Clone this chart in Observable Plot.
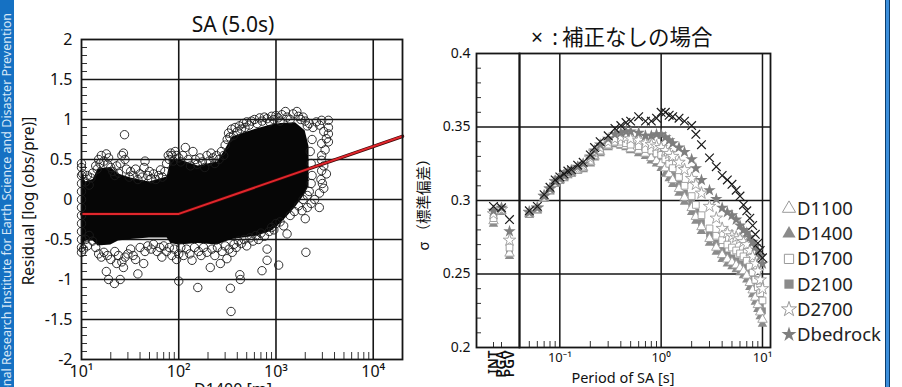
<!DOCTYPE html>
<html><head><meta charset="utf-8">
<script src="https://cdn.jsdelivr.net/npm/d3@7"></script>
<script src="https://cdn.jsdelivr.net/npm/@observablehq/plot@0.6"></script>
<style>
html,body{margin:0;padding:0;background:#fff;overflow:hidden;}
#wrap{position:relative;width:902px;height:387px;overflow:hidden;font-family:"Noto Sans",sans-serif;}
#wrap > svg{position:absolute;top:0;background:transparent;}
</style></head><body><div id="wrap"></div>
<script>
// ---------------- LEFT PANEL DATA: SA (5.0s) residuals vs D1400 ----------------
const leftYTicks = [-2, -1.5, -1, -0.5, 0, 0.5, 1, 1.5, 2];
const leftYGrid = [-1.5, -1, -0.5, 0, 0.5, 1, 1.5];
const leftYMinor = [-1.9,-1.8,-1.7,-1.6,-1.4,-1.3,-1.2,-1.1,-0.9,-0.8,-0.7,-0.6,-0.4,-0.3,-0.2,-0.1,0.1,0.2,0.3,0.4,0.6,0.7,0.8,0.9,1.1,1.2,1.3,1.4,1.6,1.7,1.8,1.9];
const leftXTicks = [10, 100, 1000, 10000];
const leftXTickLabels = ["10¹", "10²", "10³", "10⁴"];
const leftXGrid = [100, 1000, 10000];
const leftXMinor = [20,30,40,50,60,70,80,90,200,300,400,500,600,700,800,900,2000,3000,4000,5000,6000,7000,8000,9000];
// fitted bilinear correction line
const fitD = [10, 100, 20000];
const fitR = [-0.18, -0.18, 0.79];
// dense core of the residual cloud (read envelope)
const coreD  = [10, 11, 13.2, 14.8, 20, 24, 32, 50, 76, 83, 100, 158, 251, 300, 355, 631, 891, 1122, 1585, 1995, 2188];
const coreLo = [-0.62,-0.52,-0.52,-0.58,-0.57,-0.52,-0.5,-0.48,-0.48,-0.55,-0.57,-0.55,-0.57,-0.53,-0.5,-0.46,-0.4,-0.3,-0.1,0.07,0.17];
const coreHi = [0.38,0.22,0.25,0.38,0.4,0.32,0.27,0.22,0.28,0.5,0.5,0.42,0.47,0.62,0.78,0.88,0.93,0.95,0.96,0.86,0.66];
// individual residual circles visible at the edges of the cloud [D1400, residual]
const residualPoints = [
 [10,0.45],[10,0.4],[10,0.3],[10,0.2],[10,0.1],[10,0],[10,-0.1],[10,-0.2],[10,-0.3],[10,-0.4],[10,-0.5],[10,-0.6],[10,-0.66],
 [10.3,0.32],[11,0.22],[11.5,0.3],[12,0.18],[12.5,0.27],[13,0.33],[14,0.42],[14.5,0.38],[15,0.5],[15.5,0.45],[16,0.55],[17,0.48],[18,0.57],[18.5,0.44],[19,0.52],[20,0.4],[21,0.35],[22,0.3],[23,0.42],[24,0.33],[25,0.45],[26,0.55],[27,0.58],[27.7,0.81],[28,0.5],[29,0.38],[31,0.28],[32,0.35],[34,0.3],[36,0.38],[38,0.25],[40,0.32],[42,0.28],[44,0.4],[45,0.48],[48,0.3],[50,0.35],[52,0.26],[55,0.32],[58,0.25],[62,0.3],[65,0.37],[68,0.28],[72,0.35],[75,0.45],[78,0.55],[80,0.5],[83,0.58],[85,0.55],[88,0.48],[92,0.6],[95,0.55],[100,0.52],[105,0.47],[110,0.55],[117,0.65],[125,0.5],[132,0.42],[140,0.6],[148,0.5],[155,0.44],[165,0.52],[175,0.47],[185,0.4],[195,0.55],[205,0.48],[215,0.58],[225,0.52],[235,0.45],[245,0.55],[260,0.5],[275,0.6],[290,0.55],[300,0.68],[315,0.75],[325,0.83],[335,0.78],[350,0.88],[365,0.8],[380,0.9],[400,0.85],[420,0.92],[440,0.88],[460,0.95],[480,0.9],[500,0.97],[530,0.93],[560,0.98],[600,1.0],[640,0.95],[680,1.02],[720,0.98],[760,1.03],[810,1.01],[860,0.97],[900,1.04],[950,1.0],[1000,1.05],[1050,1.02],[1100,0.98],[1150,1.06],[1250,1.1],[1300,1.03],[1400,1.0],[1500,1.07],[1640,1.1],[1700,1.04],[1800,1.0],[1900,1.03],[2000,0.98],[2100,0.92],[2200,0.95],[2400,0.9],[2600,0.97],[2800,0.93],[2950,0.99],[3100,0.85],[3460,0.99],[3460,0.9],[3460,0.82],[3300,0.76],[3460,0.72],[2950,0.7],[3200,0.62],[2950,0.55],[2950,0.49],[3100,0.42],[2950,0.36],[3300,0.32],[2900,0.25],[3000,0.2],[3100,0.14],[2800,0.08],[2790,-0.1],[2500,0.0],[2300,-0.05],[2000,-0.24],[1850,-0.14],[2100,-0.1],
 [10.5,-0.62],[11,-0.5],[11.5,-0.58],[12,-0.45],[13,-0.52],[14,-0.6],[15,-0.68],[16,-0.72],[17,-0.66],[18,-0.9],[18.5,-0.7],[19,-1.0],[20,-0.75],[21.8,-1.05],[22,-0.65],[23,-0.8],[24,-0.7],[25,-1.0],[26,-0.78],[27,-0.85],[28,-0.72],[30,-0.68],[32,-0.62],[34,-0.7],[36,-0.75],[38,-0.93],[40,-0.6],[43.6,-0.8],[45,-0.65],[48,-0.58],[52,-0.62],[55,-0.56],[60,-0.65],[64,-0.6],[67,-0.72],[70,-0.58],[75,-0.65],[80,-0.6],[85,-0.7],[90,-0.62],[95,-0.75],[100,-1.02],[100,-0.68],[105,-0.6],[112,-0.7],[120,-0.62],[130,-0.68],[137,-0.76],[145,-0.6],[157,-1.1],[160,-0.65],[170,-0.7],[180,-0.6],[195,-0.66],[211,-0.85],[220,-0.62],[235,-0.7],[250,-0.6],[268,-0.8],[280,-0.65],[300,-0.58],[313,-0.74],[330,-0.62],[340,-1.11],[345,-1.4],[355,-0.66],[370,-0.56],[390,-0.6],[410,-0.52],[425,-0.94],[430,-1.0],[440,-0.55],[470,-0.5],[500,-0.58],[540,-0.48],[580,-0.52],[620,-0.45],[660,-0.5],[718,-0.89],[700,-0.42],[760,-0.46],[810,-0.76],[810,-0.62],[850,-0.4],[900,-0.35],[950,-0.38],[1000,-0.3],[1065,-0.82],[1100,-0.28],[1200,-0.33],[1300,-0.43],[1400,-0.2],[1550,-0.15],[1700,-0.08],[2030,-0.66],[1900,0.0],[2100,0.05],[2200,0.1],[2300,0.2],[2350,0.3],[2300,0.45],[2250,0.6],[2350,0.75]
];

// ---------------- RIGHT PANEL DATA: sigma vs period ----------------
const rightYTicks = [0.2, 0.25, 0.3, 0.35, 0.4];
const rightYGrid = [0.25, 0.3, 0.35];
const rightYMinor = [0.21,0.22,0.23,0.24,0.26,0.27,0.28,0.29,0.31,0.32,0.33,0.34,0.36,0.37,0.38,0.39];
const rightXTicks = [0.1, 1, 10];
const rightXTickLabels = ["10⁻¹", "10⁰", "10¹"];
const rightXMinor = [0.05,0.06,0.07,0.08,0.09,0.2,0.3,0.4,0.5,0.6,0.7,0.8,0.9,2,3,4,5,6,7,8,9];
const categories = ["INT", "PGA", "PGV"];
const periods = [0.05,0.06,0.07,0.08,0.09,0.1,0.11,0.12,0.13,0.15,0.17,0.2,0.22,0.25,0.3,0.35,0.4,0.45,0.5,0.6,0.7,0.8,0.9,1,1.1,1.2,1.3,1.5,1.7,2,2.2,2.5,3,3.5,4,4.5,5,5.5,6,6.5,7,7.5,8,8.5,9,9.5,10];
const sigmaNoCorr   = [.293,.296,.304,.309,.314,.316,.318,.320,.321,.324,.326,.331,.336,.340,.344,.349,.351,.353,.354,.357,.354,.354,.356,.360,.360,.358,.357,.356,.354,.351,.345,.338,.329,.323,.317,.314,.311,.307,.303,.297,.293,.288,.283,.277,.271,.266,.261];
const sigmaDbedrock = [.292,.295,.303,.308,.313,.315,.317,.319,.320,.323,.325,.330,.334,.338,.342,.345,.346,.347,.347,.346,.344,.344,.345,.345,.343,.341,.339,.336,.333,.328,.322,.314,.307,.301,.295,.292,.290,.287,.283,.280,.278,.275,.272,.269,.266,.262,.257];
const sigmaD2700    = [.292,.295,.303,.308,.313,.315,.317,.319,.320,.322,.324,.329,.333,.336,.340,.342,.343,.343,.342,.341,.339,.338,.337,.336,.334,.332,.330,.326,.321,.315,.311,.305,.296,.288,.281,.278,.276,.275,.274,.272,.270,.266,.262,.257,.252,.246,.240];
const sigmaD1700    = [.291,.294,.302,.307,.312,.314,.316,.318,.319,.321,.323,.327,.331,.334,.338,.340,.340,.339,.338,.337,.335,.334,.332,.331,.328,.325,.322,.316,.310,.303,.297,.290,.281,.276,.273,.270,.268,.266,.264,.262,.259,.255,.251,.246,.241,.237,.232];
const sigmaD2100    = [.291,.294,.302,.307,.312,.314,.316,.318,.319,.321,.322,.326,.330,.333,.337,.339,.339,.338,.336,.335,.333,.331,.329,.327,.324,.320,.317,.311,.305,.298,.292,.285,.277,.271,.266,.263,.261,.259,.257,.255,.252,.248,.244,.239,.234,.229,.225];
const sigmaD1100    = [.291,.294,.302,.307,.312,.314,.316,.318,.319,.321,.322,.326,.330,.333,.337,.339,.338,.337,.335,.334,.332,.329,.327,.325,.322,.318,.314,.308,.302,.295,.289,.282,.274,.268,.263,.260,.258,.256,.254,.252,.249,.244,.239,.234,.229,.224,.219];
const sigmaD1400    = [.290,.293,.301,.306,.311,.313,.315,.317,.318,.320,.321,.325,.329,.332,.336,.338,.337,.336,.334,.332,.330,.327,.325,.322,.318,.315,.311,.305,.299,.292,.286,.279,.271,.265,.260,.257,.255,.253,.251,.249,.246,.241,.236,.231,.226,.221,.216];
// INT, PGA, PGV
const catNoCorr   = [0.296, 0.295, 0.287];
const catDbedrock = [0.293, 0.295, 0.279];
const catD2700    = [0.291, 0.294, 0.273];
const catD1700    = [0.288, 0.294, 0.268];
const catD2100    = [0.286, 0.293, 0.266];
const catD1100    = [0.286, 0.293, 0.264];
const catD1400    = [0.284, 0.292, 0.262];

// ---------------- styles ----------------
const GRID = "#161616";
const GRAY = "#8b8b8b";
const series = [
  {name: "D1400",    vals: sigmaD1400,    cat: catD1400,    symbol: "triangle", fill: GRAY,   stroke: "none", r: 3.5},
  {name: "D2100",    vals: sigmaD2100,    cat: catD2100,    symbol: "square",   fill: GRAY,   stroke: "none", r: 3.8},
  {name: "D1100",    vals: sigmaD1100,    cat: catD1100,    symbol: "triangle", fill: "white", stroke: "#9a9a9a", r: 3.5},
  {name: "D1700",    vals: sigmaD1700,    cat: catD1700,    symbol: "square",   fill: "white", stroke: "#9a9a9a", r: 3.8},
  {name: "D2700",    vals: sigmaD2700,    cat: catD2700,    symbol: "star",     fill: "white", stroke: "#9a9a9a", r: 3.9},
  {name: "Dbedrock", vals: sigmaDbedrock, cat: catDbedrock, symbol: "star",     fill: "#7e7e7e", stroke: "none", r: 3.9},
];
const fontFam = '"Noto Sans", "DejaVu Sans", sans-serif';
const wrap = document.getElementById("wrap");
function place(svg, left) { svg.style.left = left + "px"; wrap.appendChild(svg); }

// ---------------- LEFT PLOT ----------------
const coreRows = coreD.map((d, i) => ({D: d, lo: coreLo[i], hi: coreHi[i]}));
const fitRows = fitD.map((d, i) => ({D: d, r: fitR[i]}));
const leftW = 420, leftH = 387, lML = 81, lMR = 18, lMT = 39, lMB = 28;
const leftPlot = Plot.plot({
  width: leftW, height: leftH, marginLeft: lML, marginRight: lMR, marginTop: lMT, marginBottom: lMB,
  style: {fontFamily: fontFam, fontSize: "16px", color: "#111", background: "transparent", overflow: "visible"},
  x: {type: "log", domain: [10, 20000], axis: null},
  y: {domain: [-2, 2], axis: null},
  marks: [
    Plot.ruleY(leftYGrid, {stroke: GRID, strokeWidth: 1.6}),
    Plot.ruleX(leftXGrid, {stroke: GRID, strokeWidth: 1.6}),
    Plot.tickY(leftYMinor, {y: d => d, stroke: "#333", strokeWidth: 1, insetRight: (leftW - lML - lMR) - 6}),
    Plot.tickX(leftXMinor, {x: d => d, stroke: "#333", strokeWidth: 1, insetTop: (leftH - lMT - lMB) - 7}),
    Plot.areaY(coreRows, {x: "D", y1: "lo", y2: "hi", fill: "#060606"}),
    Plot.dot(residualPoints, {x: d => d[0], y: d => d[1], r: 4.2, stroke: "#1c1c1c", strokeWidth: 0.9, fill: "none"}),
    Plot.line(fitRows, {x: "D", y: "r", stroke: "#3a0505", strokeWidth: 3.4}),
    Plot.line(fitRows, {x: "D", y: "r", stroke: "#e0262c", strokeWidth: 2}),
    Plot.frame({stroke: GRID, strokeWidth: 1.8}),
    Plot.axisY({ticks: leftYTicks, tickFormat: d => String(d), tickSize: 0, tickPadding: 9, fontSize: 16, label: null}),
    Plot.axisX({ticks: leftXTicks, tickFormat: d => leftXTickLabels[leftXTicks.indexOf(d)], tickSize: 0, tickPadding: 6, fontSize: 16, label: null})
  ]
});
place(leftPlot, 0);

// ---------------- RIGHT PLOT: categorical part (INT / PGA / PGV) ----------------
const catLeft = 430, cML = 46, cMR = 2, catW = 91, rMT = 53, rMB = 40, rH = 387;
const catPlot = Plot.plot({
  width: catW, height: rH, marginLeft: cML, marginRight: cMR, marginTop: rMT, marginBottom: rMB,
  style: {fontFamily: fontFam, fontSize: "14px", color: "#111", background: "transparent", overflow: "visible"},
  x: {type: "point", domain: categories, insetLeft: 12, insetRight: 5, axis: null},
  y: {domain: [0.2, 0.4], axis: null},
  marks: [
    Plot.ruleY(rightYGrid, {stroke: GRID, strokeWidth: 1.5}),
    Plot.tickY(rightYMinor, {y: d => d, stroke: "#333", strokeWidth: 1, insetRight: (catW - cML - cMR) - 5}),
    Plot.tickX(["INT", "PGA"], {x: d => d, stroke: "#333", strokeWidth: 1, insetTop: (rH - rMT - rMB) - 5}),
    ...series.map(s => Plot.dot(categories.map((c, i) => ({c, v: s.cat[i]})), {x: "c", y: "v", symbol: s.symbol, fill: s.fill, stroke: s.stroke, strokeWidth: 0.9, r: s.r})),
    Plot.dot(categories.map((c, i) => ({c, v: catNoCorr[i]})), {x: "c", y: "v", symbol: "times", stroke: "#1a1a1a", strokeWidth: 1.2, r: 4}),
    Plot.frame({stroke: GRID, strokeWidth: 1.8}),
    Plot.axisY({ticks: rightYTicks, tickFormat: d => String(d), tickSize: 0, tickPadding: 6, fontSize: 14, label: null}),
    Plot.axisX({tickRotate: -90, tickSize: 0, tickPadding: 3, fontSize: 13.5, fontWeight: 600, label: null})
  ]
});
place(catPlot, catLeft);

// ---------------- RIGHT PLOT: log period part ----------------
const logLeft = 517, gML = 2, gMR = 10, logW = 263;
const logPlot = Plot.plot({
  width: logW, height: rH, marginLeft: gML, marginRight: gMR, marginTop: rMT, marginBottom: rMB,
  style: {fontFamily: fontFam, fontSize: "13.5px", color: "#111", background: "transparent", overflow: "visible"},
  x: {type: "log", domain: [0.04, 12], axis: null},
  y: {domain: [0.2, 0.4], axis: null},
  marks: [
    Plot.ruleY(rightYGrid, {stroke: GRID, strokeWidth: 1.5}),
    Plot.ruleX(rightXTicks, {stroke: GRID, strokeWidth: 1.5}),
    Plot.tickX(rightXMinor, {x: d => d, stroke: "#333", strokeWidth: 1, insetTop: (rH - rMT - rMB) - 6}),
    ...series.map(s => Plot.dot(periods.map((p, i) => ({T: p, v: s.vals[i]})), {x: "T", y: "v", symbol: s.symbol, fill: s.fill, stroke: s.stroke, strokeWidth: 0.9, r: s.r})),
    Plot.dot(periods.map((p, i) => ({T: p, v: sigmaNoCorr[i]})), {x: "T", y: "v", symbol: "times", stroke: "#1a1a1a", strokeWidth: 1.2, r: 4}),
    Plot.frame({stroke: GRID, strokeWidth: 1.8}),
    Plot.axisX({ticks: rightXTicks, tickFormat: d => rightXTickLabels[rightXTicks.indexOf(d)], tickSize: 0, tickPadding: 5, fontSize: 13, label: null})
  ]
});
place(logPlot, logLeft);

// ---------------- overlay: titles, legend, page chrome ----------------
const ov = d3.create("svg").attr("width", 902).attr("height", 387)
  .style("left", "0px").style("pointer-events", "none").style("font-family", fontFam);
// left blue strip with site name
ov.append("rect").attr("x", 0).attr("y", 0).attr("width", 14).attr("height", 387).attr("fill", "#1571c3");
ov.append("text").attr("transform", "translate(11.3,418) rotate(-90)").attr("font-size", 12.5).attr("fill", "#d6e7f7")
  .text("National Research Institute for Earth Science and Disaster Prevention");
// right blue border
ov.append("rect").attr("x", 885).attr("y", 0).attr("width", 5).attr("height", 387).attr("fill", "#0d3d6b");
ov.append("rect").attr("x", 886).attr("y", 0).attr("width", 3).attr("height", 387).attr("fill", "#3c8fdc");
// left titles
ov.append("text").attr("x", 233).attr("y", 32).attr("text-anchor", "middle").attr("font-size", 21).attr("fill", "#111").text("SA (5.0s)");
ov.append("text").attr("x", 233).attr("y", 395).attr("text-anchor", "middle").attr("font-size", 16).attr("fill", "#111").text("D1400 [m]");
ov.append("text").attr("transform", "translate(34,201) rotate(-90)").attr("text-anchor", "middle").attr("font-size", 15.5).attr("fill", "#111").text("Residual [log (obs/pre)]");
// right titles
ov.append("text").attr("transform", "translate(429,201) rotate(-90)").attr("text-anchor", "middle").attr("font-size", 14.5).attr("fill", "#111")
  .style("font-family", '"Noto Sans CJK JP", sans-serif').text("σ （標準偏差）");
ov.append("text").attr("x", 537).attr("y", 45).attr("text-anchor", "middle").attr("font-size", 21).attr("fill", "#111").text("×");
ov.append("text").attr("x", 555).attr("y", 45).attr("text-anchor", "middle").attr("font-size", 21).attr("fill", "#111").text(":");
ov.append("text").attr("x", 562).attr("y", 45).attr("font-size", 21.5).attr("fill", "#111")
  .style("font-family", '"Noto Sans CJK JP", sans-serif').text("補正なしの場合");
ov.append("text").attr("x", 623).attr("y", 383).attr("text-anchor", "middle").attr("font-size", 14.5).attr("fill", "#111").text("Period of SA [s]");
// legend
const legendOrder = ["D1100", "D1400", "D1700", "D2100", "D2700", "Dbedrock"];
const symMap = {triangle: d3.symbolTriangle, square: d3.symbolSquare, star: d3.symbolStar};
legendOrder.forEach((name, i) => {
  const s = series.find(q => q.name === name);
  const base = 215 + i * 25.2;
  const size = s.symbol === "square" ? 85 : (s.symbol === "triangle" ? 75 : 70);
  ov.append("path").attr("d", d3.symbol(symMap[s.symbol], size)())
    .attr("transform", `translate(789,${base - 6.5})`)
    .attr("fill", s.fill).attr("stroke", s.stroke === "none" ? null : s.stroke).attr("stroke-width", 1);
  ov.append("text").attr("x", 797).attr("y", base).attr("font-size", 18.5).attr("fill", "#222").text(name);
});
wrap.appendChild(ov.node());
</script></body></html>
